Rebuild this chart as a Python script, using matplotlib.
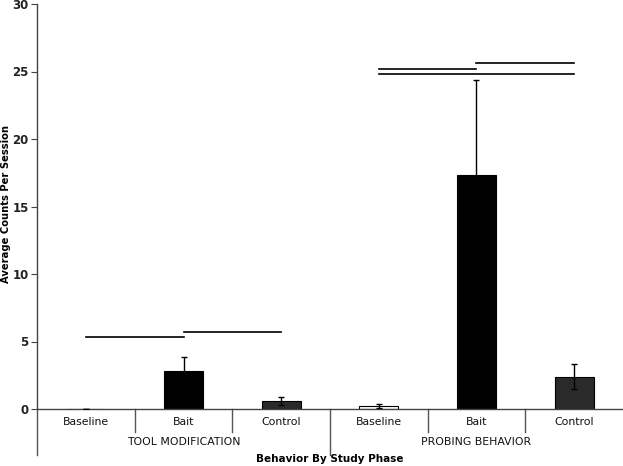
import matplotlib
matplotlib.use("Agg")
import matplotlib.pyplot as plt
from matplotlib.lines import Line2D

groups = ["TOOL MODIFICATION", "PROBING BEHAVIOR"]
phases = ["Baseline", "Bait", "Control"]
means = [0.0, 2.8, 0.6, 0.2, 17.3, 2.4]
errors = [0.0, 1.05, 0.3, 0.15, 7.1, 0.9]
colors = ["white", "black", "#2a2a2a", "white", "black", "#2a2a2a"]
# significance bars: (start index, end index, height)
sig_lines = [(0, 1, 5.35), (1, 2, 5.7), (3, 4, 25.2), (4, 5, 25.6), (3, 5, 24.8)]

W, H = 623, 466
fig = plt.figure(figsize=(W / 100, H / 100), dpi=100)
ax_h_px = 409 - 4
ax = fig.add_axes([37 / W, (H - 409) / H, (W - 37) / W, ax_h_px / H])

xs = [i + 0.5 for i in range(len(means))]
ax.bar(xs, means, width=0.4, color=colors, edgecolor="black", linewidth=0.8, zorder=2)
ax.errorbar(xs, means, yerr=errors, fmt="none", ecolor="black", elinewidth=1.0,
            capsize=2, capthick=1.0, zorder=3)

for a, b, h in sig_lines:
    ax.plot([xs[a], xs[b]], [h, h], color="black", linewidth=1.2, zorder=3)

ax.set_xlim(0, 6)
ax.set_ylim(0, 30)
ax.set_yticks(range(0, 31, 5))
ax.set_xticks([])
for s in ["top", "right"]:
    ax.spines[s].set_visible(False)
for s in ["left", "bottom"]:
    ax.spines[s].set_color("#444444")
    ax.spines[s].set_linewidth(1.0)
ax.tick_params(axis="y", direction="out", length=4, color="#444444", labelsize=8.5,
               pad=2)
for lbl in ax.get_yticklabels():
    lbl.set_fontweight("bold")
    lbl.set_color("#222222")

trans = ax.get_xaxis_transform()
def frac(px):
    return -px / ax_h_px

# separators
for x in [1, 2, 4, 5]:
    ax.add_line(Line2D([x, x], [0, frac(23)], transform=trans, color="#555555",
                       linewidth=1.0, clip_on=False))
for x in [0, 3]:
    ax.add_line(Line2D([x, x], [0, frac(46)], transform=trans, color="#555555",
                       linewidth=1.0, clip_on=False))

for i, x in enumerate(xs):
    ax.text(x, frac(13), phases[i % 3], transform=trans, ha="center", va="center",
            fontsize=7.8, color="#111111")
for g, name in enumerate(groups):
    ax.text(1.5 + 3 * g, frac(33), name, transform=trans, ha="center", va="center",
            fontsize=7.8, color="#111111")

fig.text(330 / W, 1 - 459 / H, "Behavior By Study Phase", ha="center", va="center",
         fontsize=7.5, fontweight="bold")
fig.text(6 / W, 1 - 204 / H, "Average Counts Per Session", ha="center", va="center",
         rotation=90, fontsize=7.2, fontweight="bold")

fig.savefig("out.png", dpi=100)
